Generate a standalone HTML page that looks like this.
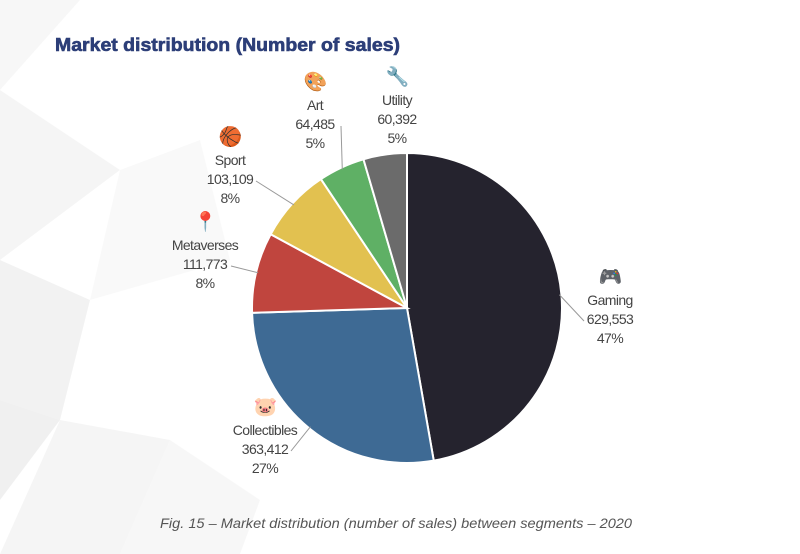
<!DOCTYPE html>
<html><head><meta charset="utf-8"><style>
body{margin:0;width:800px;height:554px;overflow:hidden;background:#fff;font-family:"Liberation Sans",sans-serif}
svg{position:absolute;left:0;top:0}
</style></head><body>
<svg width="800" height="554">
<g fill="#000">
<polygon points="0,0 80,0 0,90" opacity="0.03"/>
<polygon points="0,90 120,170 0,260" opacity="0.04"/>
<polygon points="0,260 90,300 60,420 0,400" opacity="0.05"/>
<polygon points="60,420 170,440 120,554 0,554" opacity="0.04"/>
<polygon points="120,170 200,140 230,260 90,300" opacity="0.025"/>
<polygon points="170,440 260,500 240,554 120,554" opacity="0.03"/>
<polygon points="0,400 60,420 0,500" opacity="0.06"/>
</g>
<text x="55" y="51" font-size="18" font-weight="bold" fill="#2c3e78" textLength="345" lengthAdjust="spacingAndGlyphs" stroke="#2c3e78" stroke-width="0.6">Market distribution (Number of sales)</text>
<g id="pie"></g>
<g id="labels" font-size="14" fill="#444" text-anchor="middle" letter-spacing="-0.6"></g>
<text x="396" y="528" font-size="14" font-style="italic" fill="#555" text-anchor="middle" textLength="472" lengthAdjust="spacingAndGlyphs">Fig. 15 – Market distribution (number of sales) between segments – 2020</text>
</svg>
<script>
const categories=["Gaming","Collectibles","Metaverses","Sport","Art","Utility"];
const values=[629553,363412,111773,103109,64485,60392];
const percents=["47%","27%","8%","8%","5%","5%"];
const valueLabels=["629,553","363,412","111,773","103,109","64,485","60,392"];
const icons=["🎮","🐷","📍","🏀","🎨","🔧"];
const colors=["#25232e","#3e6a94","#c0453e","#e2c150","#5fb065","#6b6b6b"];
const labelPos=[[610,305],[265,435],[205,250],[230,165],[315,110],[397,105]];
const cx=407,cy=308,r=155,NS="http://www.w3.org/2000/svg";
const total=values.reduce((a,b)=>a+b,0);
const pie=document.getElementById('pie'),lab=document.getElementById('labels');
function pt(a,rr){return [cx+rr*Math.sin(a),cy-rr*Math.cos(a)];}
let a0=0;
values.forEach((v,i)=>{
 const a1=a0+v/total*2*Math.PI;
 const p0=pt(a0,r),p1=pt(a1,r);
 const p=document.createElementNS(NS,'path');
 p.setAttribute('d',`M${cx},${cy}L${p0[0]},${p0[1]}A${r},${r} 0 ${a1-a0>Math.PI?1:0} 1 ${p1[0]},${p1[1]}Z`);
 p.setAttribute('fill',colors[i]);p.setAttribute('stroke','#fff');p.setAttribute('stroke-width','2');
 
 
 pie.appendChild(p);
 const mid=(a0+a1)/2,e=pt(mid,r-2);
 const [lx,ly]=labelPos[i];
 const g=document.createElementNS(NS,'g');
 
 
 const line=document.createElementNS(NS,'polyline');
 const sx=lx+(e[0]>lx?26:-26);
 line.setAttribute('points',`${sx},${ly+16} ${e[0]},${e[1]}`);
 line.setAttribute('stroke','#999');line.setAttribute('fill','none');
 if(i!==5) g.appendChild(line);
 const ic=document.createElementNS(NS,'text');
 ic.setAttribute('x',lx);ic.setAttribute('y',ly-22);ic.setAttribute('font-size','19');ic.textContent=icons[i];
 g.appendChild(ic);
 [categories[i],valueLabels[i],percents[i]].forEach((t,k)=>{
  const tx=document.createElementNS(NS,'text');
  tx.setAttribute('x',lx);tx.setAttribute('y',ly+k*19);tx.textContent=t;g.appendChild(tx);
 });
 lab.appendChild(g);
 a0=a1;
});
</script>
</body></html>
